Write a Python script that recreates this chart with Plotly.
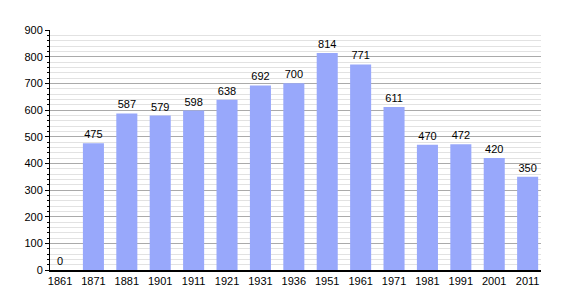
import plotly.graph_objects as go

years = ["1861", "1871", "1881", "1901", "1911", "1921", "1931", "1936",
         "1951", "1961", "1971", "1981", "1991", "2001", "2011"]
population = [0, 475, 587, 579, 598, 638, 692, 700, 814, 771, 611, 470, 472, 420, 350]

fig = go.Figure()
fig.add_trace(go.Bar(
    x=years, y=population,
    text=[str(v) for v in population],
    textposition="outside",
    textfont=dict(family="Liberation Sans, Arial, sans-serif", size=11, color="#000"),
    cliponaxis=False,
    marker=dict(color="#98a8fb", line=dict(width=0)),
    width=0.63,
))

fig.update_layout(
    width=570, height=300,
    margin=dict(l=50, r=29, t=30, b=30),
    paper_bgcolor="white", plot_bgcolor="white",
    showlegend=False,
    font=dict(family="Liberation Sans, Arial, sans-serif", size=11, color="#000"),
)
fig.update_xaxes(
    type="category",
    showline=True, linecolor="#000", linewidth=1.5,
    showgrid=False, ticks="", tickfont=dict(size=11),
    range=[-0.3, 14.4],
)
fig.update_yaxes(
    range=[0, 900], dtick=100,
    showline=True, linecolor="#000", linewidth=1,
    ticks="outside", ticklen=4, tickcolor="#000",
    showgrid=True, gridcolor="#aaaaaa", gridwidth=1,
    zeroline=False,
    minor=dict(dtick=20, showgrid=True, gridcolor="#e2e2e2", ticks="outside", ticklen=2, tickcolor="#000"),
    tickfont=dict(size=11),
)

fig.write_html("out.html")
